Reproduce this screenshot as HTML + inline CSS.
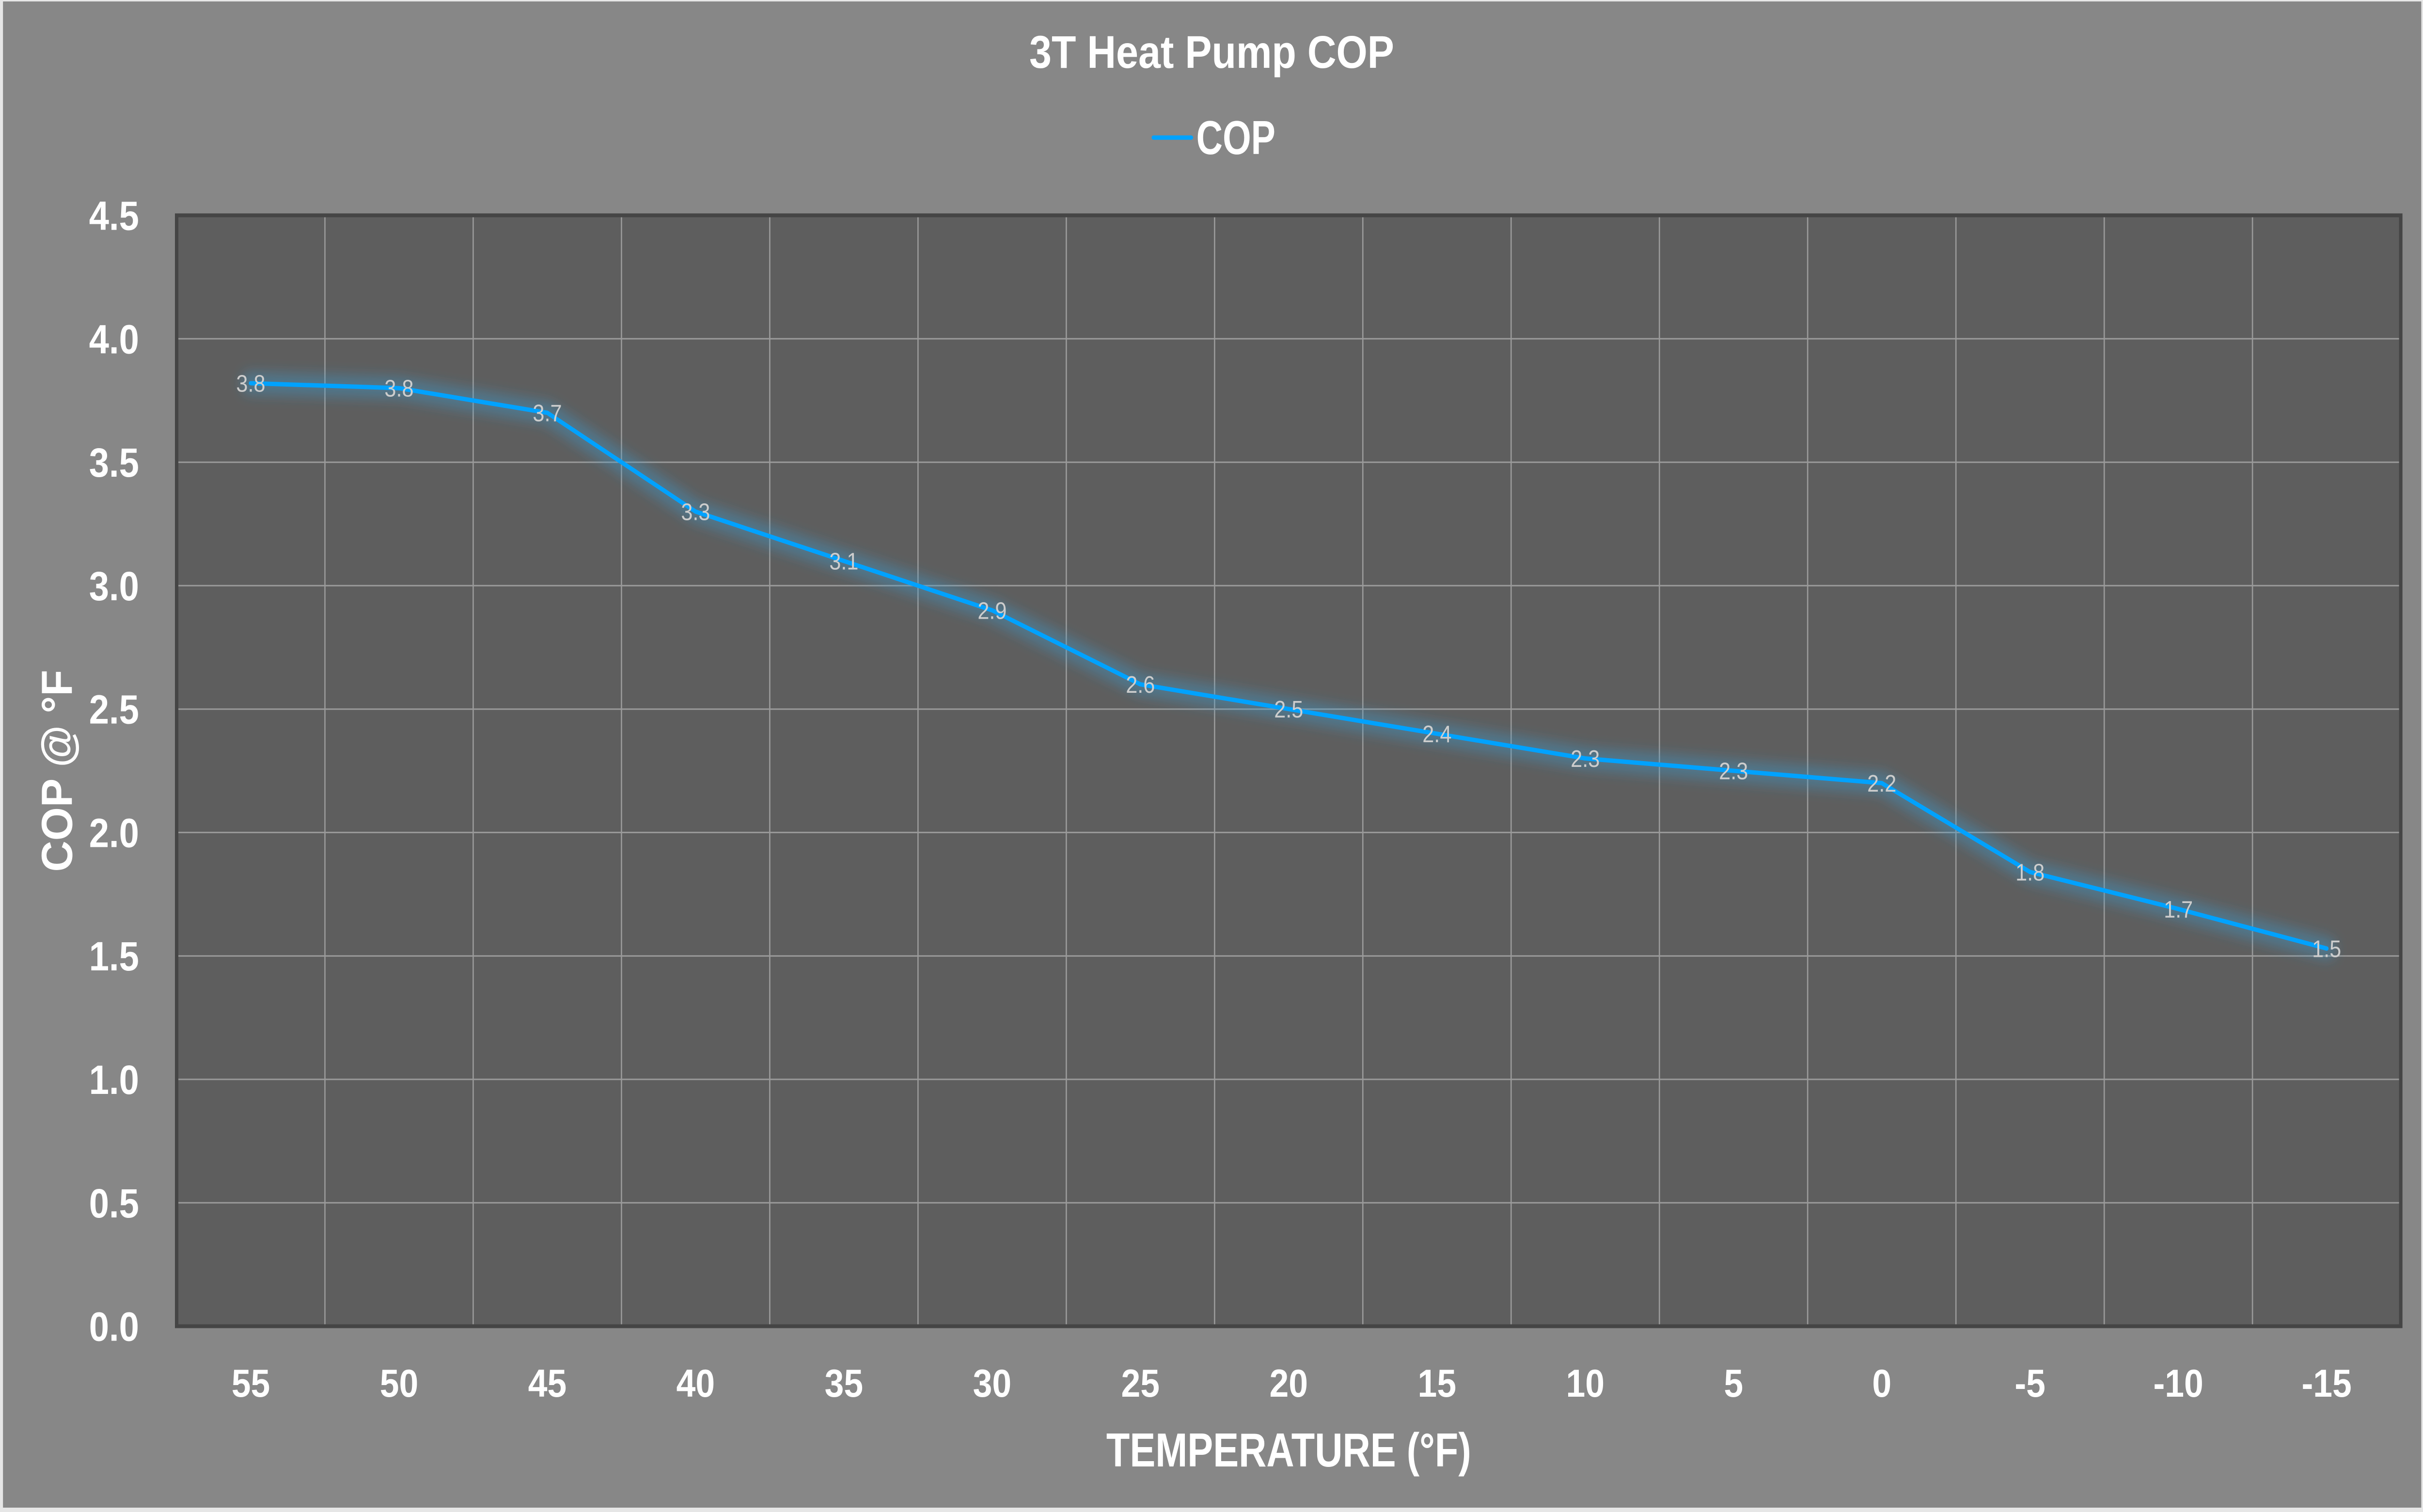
<!DOCTYPE html>
<html>
<head>
<meta charset="utf-8">
<style>
  html, body { margin: 0; padding: 0; width: 100%; height: 100%; overflow: hidden; background: #e8e8e8; }
  svg { display: block; position: absolute; left: 0; top: 0; width: 100vw; height: 100vh; }
  text { font-family: "Liberation Sans", "DejaVu Sans", sans-serif; }
</style>
</head>
<body>
<svg xmlns="http://www.w3.org/2000/svg" viewBox="0 0 5665 3121" preserveAspectRatio="none">
  <defs>
    <filter id="glow" x="-10%" y="-50%" width="120%" height="200%">
      <feGaussianBlur stdDeviation="13"/>
    </filter>
  </defs>
  <!-- outer frame -->
  <rect x="0" y="0" width="5665" height="3121" fill="#e6e6e6"/>
  <rect x="7" y="3" width="5654" height="3109" fill="#878787"/>

  <!-- title -->
  <text x="2833" y="140" font-size="95" font-weight="bold" fill="#ffffff" text-anchor="middle" textLength="853" lengthAdjust="spacingAndGlyphs">3T Heat Pump COP</text>

  <!-- legend -->
  <line x1="2697" y1="284" x2="2785" y2="284" stroke="#00a2ff" stroke-width="9" stroke-linecap="round"/>
  <text x="2797" y="318" font-size="98" font-weight="bold" fill="#ffffff" textLength="185" lengthAdjust="spacingAndGlyphs">COP</text>

  <!-- plot area -->
  <rect x="413" y="444.5" width="5200" height="2293" fill="#5e5e5e"/>

  <!-- horizontal gridlines -->
  <g stroke="#9a9a9a" stroke-width="3">
    <line x1="413" y1="699.3" x2="5613" y2="699.3"/>
    <line x1="413" y1="954.1" x2="5613" y2="954.1"/>
    <line x1="413" y1="1208.9" x2="5613" y2="1208.9"/>
    <line x1="413" y1="1463.7" x2="5613" y2="1463.7"/>
    <line x1="413" y1="1718.4" x2="5613" y2="1718.4"/>
    <line x1="413" y1="1973.2" x2="5613" y2="1973.2"/>
    <line x1="413" y1="2228.0" x2="5613" y2="2228.0"/>
    <line x1="413" y1="2482.8" x2="5613" y2="2482.8"/>
  </g>
  <!-- vertical gridlines -->
  <g stroke="#9a9a9a" stroke-width="3">
    <line x1="759.7" y1="444.5" x2="759.7" y2="2737.5"/>
    <line x1="1106.3" y1="444.5" x2="1106.3" y2="2737.5"/>
    <line x1="1453.0" y1="444.5" x2="1453.0" y2="2737.5"/>
    <line x1="1799.7" y1="444.5" x2="1799.7" y2="2737.5"/>
    <line x1="2146.3" y1="444.5" x2="2146.3" y2="2737.5"/>
    <line x1="2493.0" y1="444.5" x2="2493.0" y2="2737.5"/>
    <line x1="2839.7" y1="444.5" x2="2839.7" y2="2737.5"/>
    <line x1="3186.3" y1="444.5" x2="3186.3" y2="2737.5"/>
    <line x1="3533.0" y1="444.5" x2="3533.0" y2="2737.5"/>
    <line x1="3879.7" y1="444.5" x2="3879.7" y2="2737.5"/>
    <line x1="4226.3" y1="444.5" x2="4226.3" y2="2737.5"/>
    <line x1="4573.0" y1="444.5" x2="4573.0" y2="2737.5"/>
    <line x1="4919.7" y1="444.5" x2="4919.7" y2="2737.5"/>
    <line x1="5266.3" y1="444.5" x2="5266.3" y2="2737.5"/>
  </g>

  <!-- plot border -->
  <rect x="413" y="444.5" width="5200" height="2293" fill="none" stroke="#454545" stroke-width="8"/>

  <!-- series glow -->
  <polyline fill="none" stroke="#3d9fd6" stroke-opacity="0.38" stroke-width="46" stroke-linejoin="round" stroke-linecap="round" filter="url(#glow)"
    points="586.3,791.0 933.0,801.2 1279.7,852.1 1626.3,1056.0 1973.0,1157.9 2319.7,1259.8 2666.3,1412.6 3013.0,1463.6 3359.7,1514.6 3706.3,1565.5 4053.0,1591.0 4399.7,1616.5 4746.3,1799.9 5093.0,1876.3 5439.7,1957.9"/>
  <!-- series line -->
  <polyline fill="none" stroke="#00a2ff" stroke-width="9" stroke-linejoin="round" stroke-linecap="round"
    points="586.3,791.0 933.0,801.2 1279.7,852.1 1626.3,1056.0 1973.0,1157.9 2319.7,1259.8 2666.3,1412.6 3013.0,1463.6 3359.7,1514.6 3706.3,1565.5 4053.0,1591.0 4399.7,1616.5 4746.3,1799.9 5093.0,1876.3 5439.7,1957.9"/>

  <!-- data labels -->
  <g font-size="49" fill="#cdcdcd" text-anchor="middle">
    <text x="586.3" y="808.5">3.8</text>
    <text x="933.0" y="818.7">3.8</text>
    <text x="1279.7" y="869.6">3.7</text>
    <text x="1626.3" y="1073.5">3.3</text>
    <text x="1973.0" y="1175.4">3.1</text>
    <text x="2319.7" y="1277.3">2.9</text>
    <text x="2666.3" y="1430.1">2.6</text>
    <text x="3013.0" y="1481.1">2.5</text>
    <text x="3359.7" y="1532.1">2.4</text>
    <text x="3706.3" y="1583.0">2.3</text>
    <text x="4053.0" y="1608.5">2.3</text>
    <text x="4399.7" y="1634.0">2.2</text>
    <text x="4746.3" y="1817.4">1.8</text>
    <text x="5093.0" y="1893.8">1.7</text>
    <text x="5439.7" y="1975.4">1.5</text>
  </g>

  <!-- y tick labels -->
  <g font-size="84" font-weight="bold" fill="#ffffff" text-anchor="end">
    <text x="325" y="474.5">4.5</text>
    <text x="325" y="729.3">4.0</text>
    <text x="325" y="984.1">3.5</text>
    <text x="325" y="1238.9">3.0</text>
    <text x="325" y="1493.7">2.5</text>
    <text x="325" y="1748.4">2.0</text>
    <text x="325" y="2003.2">1.5</text>
    <text x="325" y="2258.0">1.0</text>
    <text x="325" y="2512.8">0.5</text>
    <text x="325" y="2767.5">0.0</text>
  </g>

  <!-- x tick labels -->
  <g font-size="81" font-weight="bold" fill="#ffffff" text-anchor="middle">
    <text x="586.3" y="2883">55</text>
    <text x="933.0" y="2883">50</text>
    <text x="1279.7" y="2883">45</text>
    <text x="1626.3" y="2883">40</text>
    <text x="1973.0" y="2883">35</text>
    <text x="2319.7" y="2883">30</text>
    <text x="2666.3" y="2883">25</text>
    <text x="3013.0" y="2883">20</text>
    <text x="3359.7" y="2883">15</text>
    <text x="3706.3" y="2883">10</text>
    <text x="4053.0" y="2883">5</text>
    <text x="4399.7" y="2883">0</text>
    <text x="4746.3" y="2883">-5</text>
    <text x="5093.0" y="2883">-10</text>
    <text x="5439.7" y="2883">-15</text>
  </g>

  <!-- axis titles -->
  <text x="3013" y="3027" font-size="98" font-weight="bold" fill="#ffffff" text-anchor="middle" textLength="853" lengthAdjust="spacingAndGlyphs">TEMPERATURE (°F)</text>
  <text transform="translate(168,1591) rotate(-90)" x="0" y="0" font-size="102" font-weight="bold" fill="#ffffff" text-anchor="middle" textLength="417" lengthAdjust="spacingAndGlyphs">COP @ °F</text>
</svg>
</body>
</html>
